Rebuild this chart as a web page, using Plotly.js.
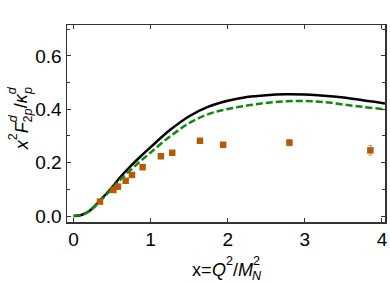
<!DOCTYPE html>
<html>
<head>
<meta charset="utf-8">
<script src="https://cdn.plot.ly/plotly-3.0.1.min.js"></script>
<style>html,body{margin:0;padding:0;background:#fff;}#chart{width:390px;height:282px;}</style>
</head>
<body>
<div id="chart"></div>
<script>
// Curves
var curveX = [0, 0.1, 0.2, 0.35, 0.5, 0.61, 0.75, 0.865, 1.0, 1.25, 1.5, 1.75, 2.0, 2.25, 2.5, 2.75, 3.0, 3.25, 3.5, 3.75, 4.0, 4.04];
var blackY = [0, 0.004, 0.018, 0.06, 0.108, 0.147, 0.19, 0.222, 0.258, 0.322, 0.374, 0.41, 0.432, 0.446, 0.453, 0.456, 0.455, 0.451, 0.444, 0.434, 0.424, 0.422];
var greenY = [0, 0.004, 0.017, 0.057, 0.103, 0.137, 0.175, 0.205, 0.238, 0.298, 0.348, 0.382, 0.401, 0.414, 0.424, 0.430, 0.431, 0.427, 0.418, 0.409, 0.401, 0.400];
// Data points
var dataX = [0.343, 0.516, 0.576, 0.676, 0.758, 0.896, 1.133, 1.28, 1.64, 1.94, 2.80, 3.85];
var dataY = [0.054, 0.0975, 0.11, 0.132, 0.154, 0.183, 0.224, 0.237, 0.282, 0.267, 0.275, 0.246];
var dataErr = [0.004, 0.004, 0.004, 0.004, 0.004, 0.005, 0.005, 0.005, 0.006, 0.006, 0.012, 0.018];
var xTicks = [0, 1, 2, 3, 4];
var yTicks = [0.0, 0.2, 0.4, 0.6];
var yTickText = ['0.0', '0.2', '0.4', '0.6'];

// Axis title pieces: [main text, superscript, subscript]
var yTitleParts = [
  ['<i>x</i>', null, null],
  [null, '2', null],
  ['<i>F</i>', null, null],
  [null, '<i>d</i>', '2<i>p</i>'],
  ['/', null, null],
  ['<i>κ</i>', null, null],
  [null, '<i>d</i>', '<i>p</i>']
];
var xTitleParts = [
  ['x=', null, null],
  ['<i>Q</i>', null, null],
  [null, '2', null],
  ['/', null, null],
  ['<i>M</i>', null, null],
  [null, '2', '<i>N</i>']
];

var fontName = 'Liberation Sans';
var fontFam = '"Liberation Sans", Arial, sans-serif';
var MAIN = 18, SCR = 12.6;
var ML = 67, MR = 5, MT = 25, MB = 60, W = 390, H = 282;
var PW = W - ML - MR, PH = H - MT - MB;

var cv = document.createElement('canvas').getContext('2d');
function measure(html, size) {
  // width of a small html string with <i> tags
  var total = 0;
  var re = /<i>(.*?)<\/i>|([^<]+)/g, m;
  while ((m = re.exec(html)) !== null) {
    var italic = m[1] !== undefined;
    var t = italic ? m[1] : m[2];
    cv.font = (italic ? 'italic ' : '') + size + 'px "' + fontName + '"';
    total += cv.measureText(t).width;
  }
  return total;
}

// Build a list of annotation pieces along a text direction
function layoutTitle(parts, center, baseline, vertical) {
  var items = [];
  var widths = parts.map(function (p) {
    if (p[0]) return measure(p[0], MAIN);
    return Math.max(p[1] ? measure(p[1], SCR) : 0, p[2] ? measure(p[2], SCR) : 0);
  });
  var L = widths.reduce(function (a, b) { return a + b; }, 0);
  var cur = -L / 2;
  parts.forEach(function (p, i) {
    var entries = [];
    if (p[0]) entries.push([p[0], MAIN, cur + widths[i] / 2, baseline - 0.3465 * MAIN]);
    if (p[1]) { var w1 = measure(p[1], SCR); entries.push([p[1], SCR, cur + w1 / 2, baseline - 0.6 * MAIN - 0.3465 * SCR]); }
    if (p[2]) { var w2 = measure(p[2], SCR); entries.push([p[2], SCR, cur + w2 / 2, baseline + 0.27 * MAIN - 0.3465 * SCR]); }
    entries.forEach(function (e) {
      var a = {text: e[0], showarrow: false, xref: 'paper', yref: 'paper', xanchor: 'center', yanchor: 'middle',
               font: {family: fontFam, size: e[1], color: '#000'}};
      if (vertical) {
        // along-text runs upward; perpendicular is horizontal (glyph tops to the left)
        var py = center - e[2];
        var px = e[3];
        a.x = (px - ML) / PW; a.y = (MT + PH - py) / PH; a.textangle = -90;
      } else {
        var px2 = center + e[2];
        var py2 = e[3];
        a.x = (px2 - ML) / PW; a.y = (MT + PH - py2) / PH;
      }
      items.push(a);
    });
    cur += widths[i];
  });
  return items;
}

var annotations = layoutTitle(yTitleParts, 118, 28, true).concat(layoutTitle(xTitleParts, 227, 276, false));

var traces = [
  {x: curveX, y: blackY, mode: 'lines', line: {color: '#000000', width: 2.5, shape: 'spline'}, hoverinfo: 'skip'},
  {x: curveX, y: greenY, mode: 'lines', line: {color: '#118811', width: 2.5, dash: '7px,3px', shape: 'spline'}, hoverinfo: 'skip'},
  {x: dataX, y: dataY, mode: 'markers', marker: {symbol: 'square', size: 6.5, color: '#b35c05'},
   error_y: {type: 'data', array: dataErr, visible: true, color: '#d9a066', thickness: 1, width: 2}}
];

var layout = {
  width: W, height: H,
  margin: {l: ML, r: MR, t: MT, b: MB},
  showlegend: false,
  paper_bgcolor: '#fff', plot_bgcolor: '#fff',
  font: {family: fontFam, size: 18, color: '#000'},
  xaxis: {
    range: [-0.085, 4.04], tickvals: xTicks, ticks: 'inside', ticklen: 4, tickcolor: '#333',
    showline: true, linecolor: '#333', linewidth: 1.5, mirror: 'ticks',
    showgrid: false, zeroline: false, tickfont: {size: 19}
  },
  yaxis: {
    range: [-0.0225, 0.716], tickvals: yTicks, ticktext: yTickText, ticks: 'inside', ticklen: 4, tickcolor: '#333',
    minor: {dtick: 0.1, ticks: 'inside', ticklen: 3, tickcolor: '#333', showgrid: false},
    showline: true, linecolor: '#333', linewidth: 1.5, mirror: 'ticks',
    showgrid: false, zeroline: false, tickfont: {size: 19}
  },
  annotations: annotations
};
Plotly.newPlot('chart', traces, layout, {staticPlot: true, displayModeBar: false});
</script>
</body>
</html>
